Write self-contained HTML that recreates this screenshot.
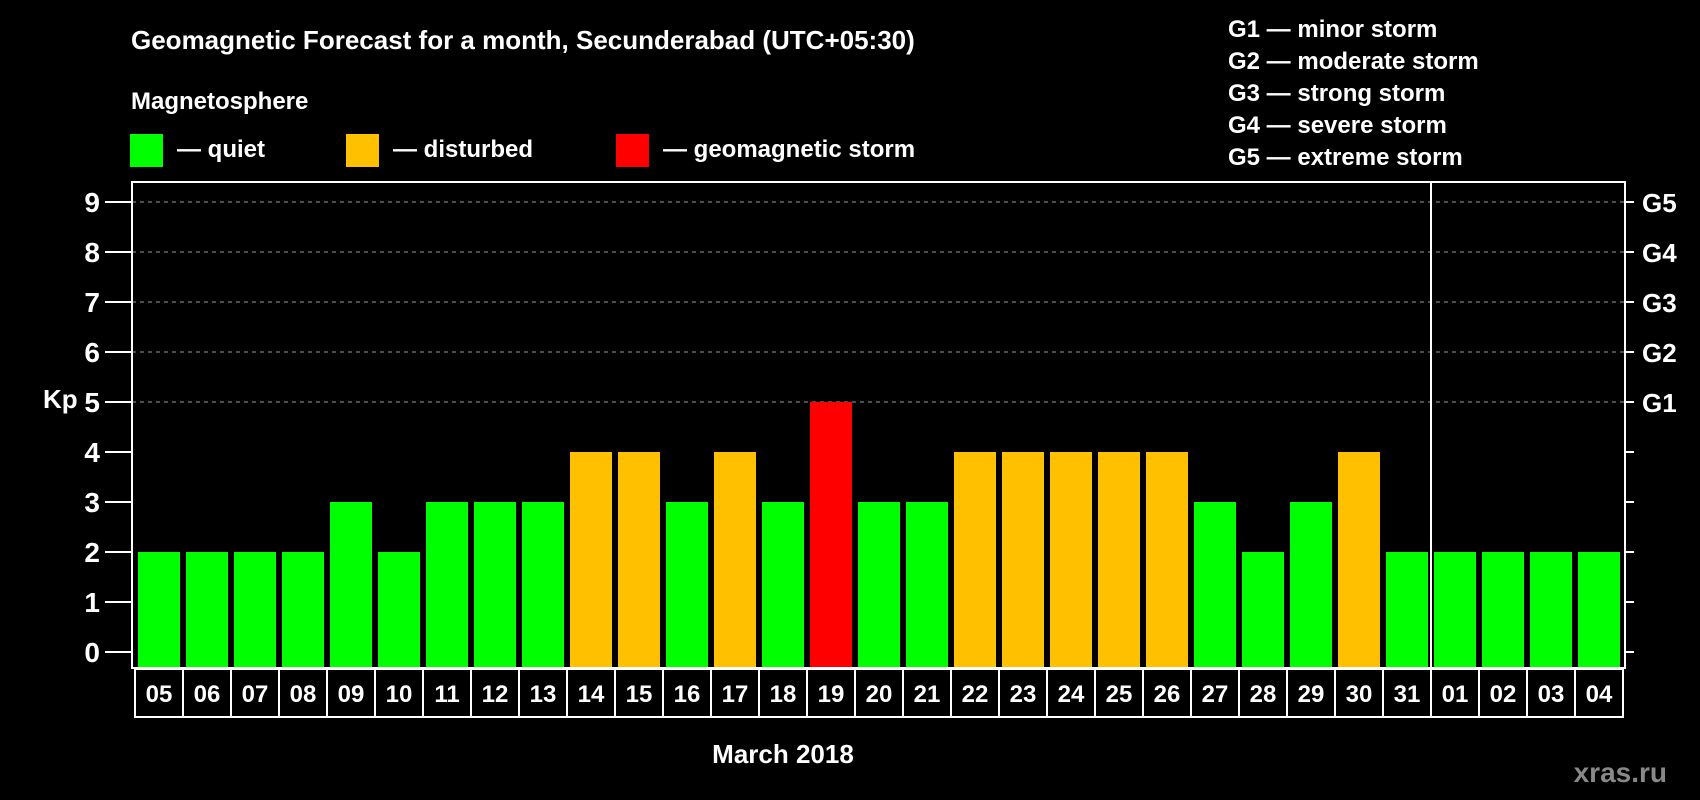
<!DOCTYPE html>
<html><head><meta charset="utf-8"><style>
html,body{margin:0;padding:0;background:#000;}
svg{display:block;font-family:"Liberation Sans",Arial,sans-serif;font-weight:bold;}
</style></head><body>
<svg id="chart" width="1700" height="800" viewBox="0 0 1700 800">
<text x="131" y="49" fill="#fff" font-size="26">Geomagnetic Forecast for a month, Secunderabad (UTC+05:30)</text>
<text x="131" y="109" fill="#fff" font-size="24">Magnetosphere</text>
<g><rect x="130" y="134" width="33" height="33" fill="#00ff00"/><text x="177" y="157" fill="#fff" font-size="24">— quiet</text></g>
<g><rect x="346" y="134" width="33" height="33" fill="#ffc000"/><text x="393" y="157" fill="#fff" font-size="24">— disturbed</text></g>
<g><rect x="616" y="134" width="33" height="33" fill="#ff0000"/><text x="663" y="157" fill="#fff" font-size="24">— geomagnetic storm</text></g>
<g fill="#fff" font-size="24">
<text x="1228" y="37">G1 — minor storm</text>
<text x="1228" y="69">G2 — moderate storm</text>
<text x="1228" y="101">G3 — strong storm</text>
<text x="1228" y="133">G4 — severe storm</text>
<text x="1228" y="165">G5 — extreme storm</text>
</g>
<text x="43" y="408" fill="#fff" font-size="26">Kp</text>
<text x="783" y="763" fill="#fff" font-size="26" text-anchor="middle">March 2018</text>
<text x="1667" y="782" fill="#888" font-size="28" text-anchor="end">xras.ru</text>
<g id="plot"></g>
</svg>
<script>
const days=["05","06","07","08","09","10","11","12","13","14","15","16","17","18","19","20","21","22","23","24","25","26","27","28","29","30","31","01","02","03","04"];
const kp=[2,2,2,2,3,2,3,3,3,4,4,3,4,3,5,3,3,4,4,4,4,4,3,2,3,4,2,2,2,2,2];
const yTicks=[0,1,2,3,4,5,6,7,8,9];
const gLabels=["G1","G2","G3","G4","G5"];
const NS="http://www.w3.org/2000/svg";
const g=document.getElementById('plot');
const L=132,R=1625,T=182,B=668,x0=138,step=48,bw=42;
const y=v=>652-v*50;
const xb=i=>x0+i*step;
function mk(t,a){const e=document.createElementNS(NS,t);for(const k in a)e.setAttribute(k,a[k]);g.appendChild(e);return e;}
// grid
yTicks.forEach(v=>{
  if(v>=5){const l=mk('line',{x1:L,x2:R,y1:y(v),y2:y(v),stroke:'#999','stroke-dasharray':'4,4','stroke-width':1});
  
  }
  const t1=mk('line',{x1:105,x2:L,y1:y(v),y2:y(v),stroke:'#fff','stroke-width':2});
  
  
  const t2=mk('line',{x1:R,x2:R+9,y1:y(v),y2:y(v),stroke:'#fff','stroke-width':2});
  
  
  const tl=mk('text',{x:100,y:y(v)+10,fill:'#fff','font-size':28,'text-anchor':'end'});tl.textContent=v;
  
  
});
gLabels.forEach((s,i)=>{
  const t=mk('text',{x:1642,y:y(i+5)+10,fill:'#fff','font-size':26});t.textContent=s;
  
  
});
// bars
kp.forEach((v,i)=>{
  const c=v>=5?'#ff0000':(v>=4?'#ffc000':'#00ff00');
  const r=mk('rect',{x:xb(i),y:y(v),width:bw,height:B-y(v),fill:c});
  
  
  const cell=mk('rect',{x:xb(i)-3,y:B+1,width:step,height:48,fill:'none',stroke:'#fff','stroke-width':2});
  
  
  const t=mk('text',{x:xb(i)+bw/2,y:B+34,fill:'#fff','font-size':24,'text-anchor':'middle'});t.textContent=days[i];
  
  
});
// frame
const f=mk('rect',{x:L,y:T,width:R-L,height:B-T,fill:'none',stroke:'#fff','stroke-width':2});


const sep=mk('line',{x1:xb(27)-3,x2:xb(27)-3,y1:T,y2:B,stroke:'#fff','stroke-width':2});


</script>
</body></html>
